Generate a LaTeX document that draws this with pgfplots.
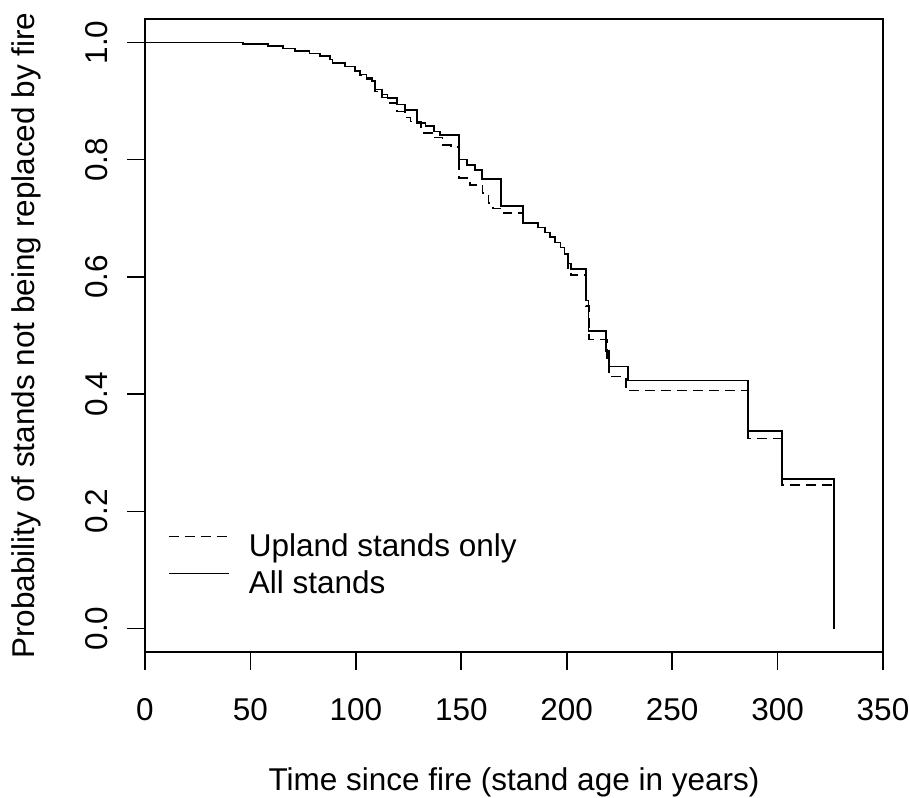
\documentclass[border=0pt]{standalone}
\usepackage{fontspec}
\setmainfont{Liberation Sans}
\usepackage{pgfplots}
\pgfplotsset{compat=1.18}
\begin{document}
\fontsize{31.5bp}{38bp}\selectfont
\begin{tikzpicture}
\begin{axis}[
  at={(0,0)}, anchor=south west,
  scale only axis, width=738bp, height=633bp,
  xmin=0, xmax=350, ymin=-0.04, ymax=1.04,
  xtick={0,50,100,150,200,250,300,350},
  ytick={0,0.2,0.4,0.6,0.8,1},
  tick align=outside, tick pos=left,
  major tick length=18bp,
  axis line style={line width=1.6bp},
  every tick/.style={line width=1.6bp, black},
  /pgf/number format/assume math mode=true,
  y tick label style={/pgf/number format/fixed, /pgf/number format/fixed zerofill, /pgf/number format/precision=1, rotate=90, anchor=base},
  x tick label style={anchor=base},
  xticklabel shift=51bp,
  yticklabel shift=19bp,
  xlabel={Time since fire (stand age in years)},
  ylabel={Probability of stands not being replaced by fire},
  xlabel style={at={(axis description cs:0.5,0)}, anchor=base, yshift=-138bp},
  ylabel style={at={(axis description cs:-0.1491,0.5)}, anchor=base, rotate=0},
  legend style={draw=none, fill=none, at={(axis description cs:0.0312,0.0821)}, anchor=south west, inner sep=0pt, row sep=8bp, column sep=19bp, nodes={inner sep=0pt, text height=23bp, text depth=6bp}},
  legend cell align=left,
  legend image code/.code={\draw[#1] (0bp,12bp) -- (60bp,12bp);},
]
\addplot[const plot, black, line width=1.6bp, dash pattern=on 10bp off 6bp] coordinates {
(0,1.0) (46.5,0.997) (58.4,0.994) (65.5,0.990) (71,0.985) (78,0.981) (83,0.977)
(87.7,0.971) (89,0.965) (94.8,0.959) (99.6,0.951) (102,0.944) (105,0.938)
(107.6,0.930) (109,0.916) (112.4,0.906) (115,0.897) (119.5,0.882) (123.3,0.872)
(126,0.865) (131,0.846) (136,0.838) (141,0.825) (145,0.822) (149,0.769)
(154,0.757) (160,0.743) (163,0.726) (165,0.717) (170,0.709) (179.3,0.692)
(186.4,0.684) (189.7,0.676) (192,0.668) (194.4,0.659) (197,0.650) (199,0.638)
(200.6,0.615) (202,0.603) (209.1,0.550) (210.6,0.493) (219,0.460) (220,0.430)
(228,0.406) (286,0.324) (302,0.245) (326.7,0.0)
};
\addlegendentry{Upland stands only}
\addplot[const plot, black, line width=1.6bp] coordinates {
(0,1.0) (46.5,0.997) (58.4,0.994) (65.5,0.990) (71,0.985) (78,0.981) (83,0.977)
(87.7,0.971) (89,0.965) (94.8,0.959) (99.6,0.951) (102,0.945) (105,0.940)
(107.6,0.934) (109,0.920) (112.4,0.911) (115,0.905) (119.5,0.894) (123.3,0.885)
(129,0.863) (133,0.857) (137,0.848) (140,0.842) (149,0.800) (152.7,0.791)
(156.5,0.782) (159.8,0.767) (168.8,0.721) (179.3,0.692) (186.4,0.684)
(189.7,0.676) (192,0.668) (194.4,0.659) (197,0.650) (199,0.640) (200.6,0.623)
(202,0.613) (209.1,0.560) (210.3,0.508) (218.6,0.474) (220,0.447) (229,0.423)
(286,0.337) (302,0.255) (326.7,0.0)
};
\addlegendentry{All stands}
\end{axis}
\pgfresetboundingbox
\path (0,0) ++(-145bp,-146bp) rectangle ++(909bp,798bp);
\end{tikzpicture}
\end{document}
